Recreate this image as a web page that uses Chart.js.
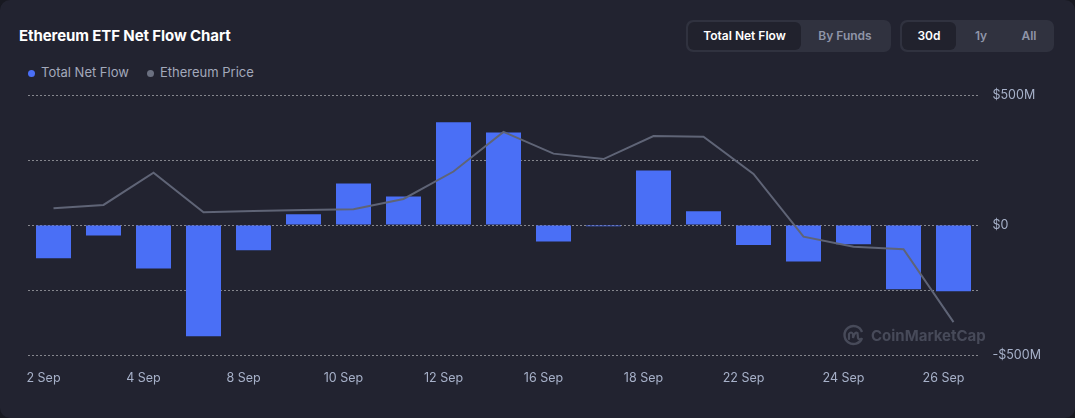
<!DOCTYPE html>
<html>
<head>
<meta charset="utf-8">
<script src="https://cdn.jsdelivr.net/npm/chart.js@4.4.1/dist/chart.umd.min.js"></script>
<style>
  html, body { margin: 0; padding: 0; background: #181921; }
  body { width: 1075px; height: 418px; overflow: hidden; font-family: Inter, "Noto Sans", sans-serif; }
  .card { position: relative; width: 1075px; height: 418px; background: #222330; border-radius: 10px; overflow: hidden; }
  .title { position: absolute; left: 19px; top: 26px; color: #fff; font-size: 15px; font-weight: 700; letter-spacing: -0.1px; }
  .legend { position: absolute; left: 28px; top: 64px; color: #a3a9bb; font-size: 13px; display: flex; gap: 18px; }
  .legend span { display: flex; align-items: center; }
  .legend i { display: inline-block; width: 7px; height: 7px; border-radius: 50%; margin-right: 6px; margin-top: 2px; }
  .group { position: absolute; top: 20px; height: 32px; background: #30323f; border-radius: 7px; box-sizing: border-box; padding: 2px; display: flex; }
  .group div { height: 28px; line-height: 28px; font-size: 12px; font-weight: 600; color: #8f95a8; text-align: center; border-radius: 6px; }
  .group div.on { background: #21222d; color: #fff; }
  .wm { position: absolute; left: 843px; top: 324px; display: flex; align-items: center; color: #474a59; font-size: 15px; font-weight: 700; }
  .wm svg { margin-right: 6px; }
  canvas { position: absolute; left: 0; top: 0; }
</style>
</head>
<body>
<div class="card">
  <div class="title">Ethereum ETF Net Flow Chart</div>
  <div class="legend">
    <span><i style="background:#4a6ff6"></i>Total Net Flow</span>
    <span><i style="background:#6b7080"></i>Ethereum Price</span>
  </div>
  <div class="group" style="left:686px;width:205px">
    <div class="on" style="width:113px">Total Net Flow</div>
    <div style="width:88px">By Funds</div>
  </div>
  <div class="group" style="left:900px;width:154px">
    <div class="on" style="width:54px">30d</div>
    <div style="width:50px">1y</div>
    <div style="width:46px">All</div>
  </div>
  <canvas id="myChart" width="1075" height="418"></canvas>
  <div class="wm">
    <svg width="22" height="22" viewBox="0 0 22 22"><path d="M19 14 A9 9 0 1 1 19 8" fill="none" stroke="#474a59" stroke-width="2.4"/><path d="M6 15 L6 10 Q8 7 10 10 L10 14 Q12 7 14.5 9 L15 14 Q16 16 18 15" fill="none" stroke="#474a59" stroke-width="2.2" stroke-linecap="round"/></svg>
    CoinMarketCap
  </div>
</div>
<script>
// dias de negociação (setembro)
var categories = ['2 Sep', '3 Sep', '4 Sep', '5 Sep', '8 Sep', '9 Sep', '10 Sep', '11 Sep', '12 Sep', '15 Sep',
                  '16 Sep', '17 Sep', '18 Sep', '19 Sep', '22 Sep', '23 Sep', '24 Sep', '25 Sep', '26 Sep'];

// fluxo líquido em milhões de USD
var netFlow = [-128, -40, -167, -428, -97, 41, 160, 110, 395, 356, -63, -5, 210, 53, -77, -140, -74, -247, -255];

// preço do ETH em USD
var ethPrice = [4319, 4331, 4450, 4304, 4309, 4312, 4315, 4353, 4454, 4600,
                4520, 4500, 4585, 4582, 4445, 4214, 4177, 4168, 3899];

var flowTicks = [-500, 0, 500];

function fmtFlow(v) {
  if (v === 0) return '$0';
  return (v < 0 ? '-' : '') + '$' + Math.abs(v) + 'M';
}

var ctx = document.getElementById('myChart').getContext('2d');

new Chart(ctx, {
  data: {
    labels: categories,
    datasets: [
      {
        type: 'line',
        label: 'Ethereum Price',
        data: ethPrice,
        yAxisID: 'y1',
        borderColor: '#5f6476',
        borderWidth: 2,
        pointRadius: 0,
        tension: 0,
        order: 0
      },
      {
        type: 'bar',
        label: 'Total Net Flow',
        data: netFlow,
        yAxisID: 'y',
        backgroundColor: '#4a6ff6',
        barPercentage: 0.7,
        categoryPercentage: 1,
        order: 1
      }
    ]
  },
  options: {
    responsive: false,
    animation: false,
    layout: { padding: { left: 28.5, top: 95, right: 0, bottom: 0 } },
    plugins: { legend: { display: false }, tooltip: { enabled: false } },
    scales: {
      x: {
        grid: { display: false },
        border: { display: false },
        afterFit: function(scale) { scale.height = 63; },
        ticks: {
          autoSkip: false,
          maxRotation: 0,
          padding: 8,
          labelOffset: -10,
          color: '#a7b1c9',
          font: { family: 'Inter', size: 12.5 },
          callback: function(v, i) { return i % 2 === 0 ? categories[i] : ''; }
        }
      },
      y: {
        position: 'right',
        min: -500,
        max: 500,
        afterFit: function(scale) { scale.width = 96.5; },
        afterBuildTicks: function(scale) {
          scale.ticks = [-500, -250, 0, 250, 500].map(function(v) { return { value: v }; });
        },
        grid: { color: 'rgba(255,255,255,0.9)', lineWidth: 1, drawTicks: false },
        border: { display: false, dash: [1, 3] },
        ticks: {
          padding: 14,
          color: '#a7b1c9',
          font: { family: 'Inter', size: 12.5 },
          callback: function(v) { return flowTicks.indexOf(v) >= 0 ? fmtFlow(v) : ''; }
        }
      },
      y1: {
        display: false,
        min: 3778,
        max: 4736
      }
    }
  }
});
</script>
</body>
</html>
